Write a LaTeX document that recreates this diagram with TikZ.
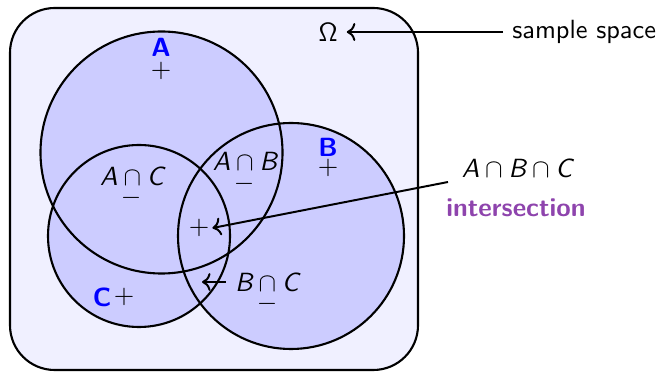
\documentclass[tikz,border=0pt]{standalone}
\usetikzlibrary{arrows.meta}
\definecolor{outerfill}{RGB}{240,240,255}
\definecolor{setfill}{RGB}{204,204,255}
\definecolor{labblue}{RGB}{0,0,255}
\definecolor{interpurple}{RGB}{142,68,173}
\newcommand{\sv}[1]{\textsl{#1}}
\begin{document}
\begin{tikzpicture}[x=0.38pt,y=-0.38pt,
  every node/.style={font=\sffamily},
  setname/.style={text=labblue,font=\sffamily\bfseries},
  mark sign/.style={inner sep=1pt},
  outline/.style={draw=black,line width=0.8pt},
  conn/.style={->,line width=0.75pt}]
\useasboundingbox (0,0) rectangle (662,372);
% sample space
\draw[outline,fill=outerfill,rounded corners=17pt] (10,8) rectangle (418,370);
% set fills
\fill[setfill] (161.5,152.5) circle[radius=121];
\fill[setfill] (291,236) circle[radius=113];
\fill[setfill] (139,236) circle[radius=91];
% set outlines
\draw[outline] (161.5,152.5) circle[radius=121];
\draw[outline] (291,236) circle[radius=113];
\draw[outline] (139,236) circle[radius=91];
% set labels
\node[setname] (lA) at (161,47) {A};
\node[mark sign] (pA) at (161,71) {$+$};
\node[setname] (lB) at (328,147) {B};
\node[mark sign] (pB) at (328,168) {$+$};
\node[setname] (lC) at (102,297) {C};
\node[mark sign] (pC) at (124,297) {$+$};
% pairwise intersections
\node (AC) at (132,176) {$\sv{A}\cap\sv{C}$};
\node[mark sign] (mAC) at (131,198) {$-$};
\node (AB) at (245,161) {$\sv{A}\cap\sv{B}$};
\node[mark sign] (mAB) at (244,184) {$-$};
\node (BC) at (267,282) {$\sv{B}\cap\sv{C}$};
\node[mark sign] (mBC) at (267,304) {$-$};
\coordinate (BCend) at (202,282);
\draw[conn] (BC.west) -- (BCend);
% triple intersection
\node[mark sign] (pABC) at (199,228) {$+$};
\node (ABC) at (517,168) {$\sv{A}\cap\sv{B}\cap\sv{C}$};
\node[text=interpurple,font=\sffamily\bfseries] (inter) at (516,208) {intersection};
\coordinate (ABCstart) at (448,182);
\draw[conn] (ABCstart) -- (pABC.east);
% omega
\node (om) at (328,32) {$\mathsf{\Omega}$};
\node[anchor=west] (ss) at (503,32) {sample space};
\draw[conn] (ss.west) -- (om.east);
\end{tikzpicture}
\end{document}
